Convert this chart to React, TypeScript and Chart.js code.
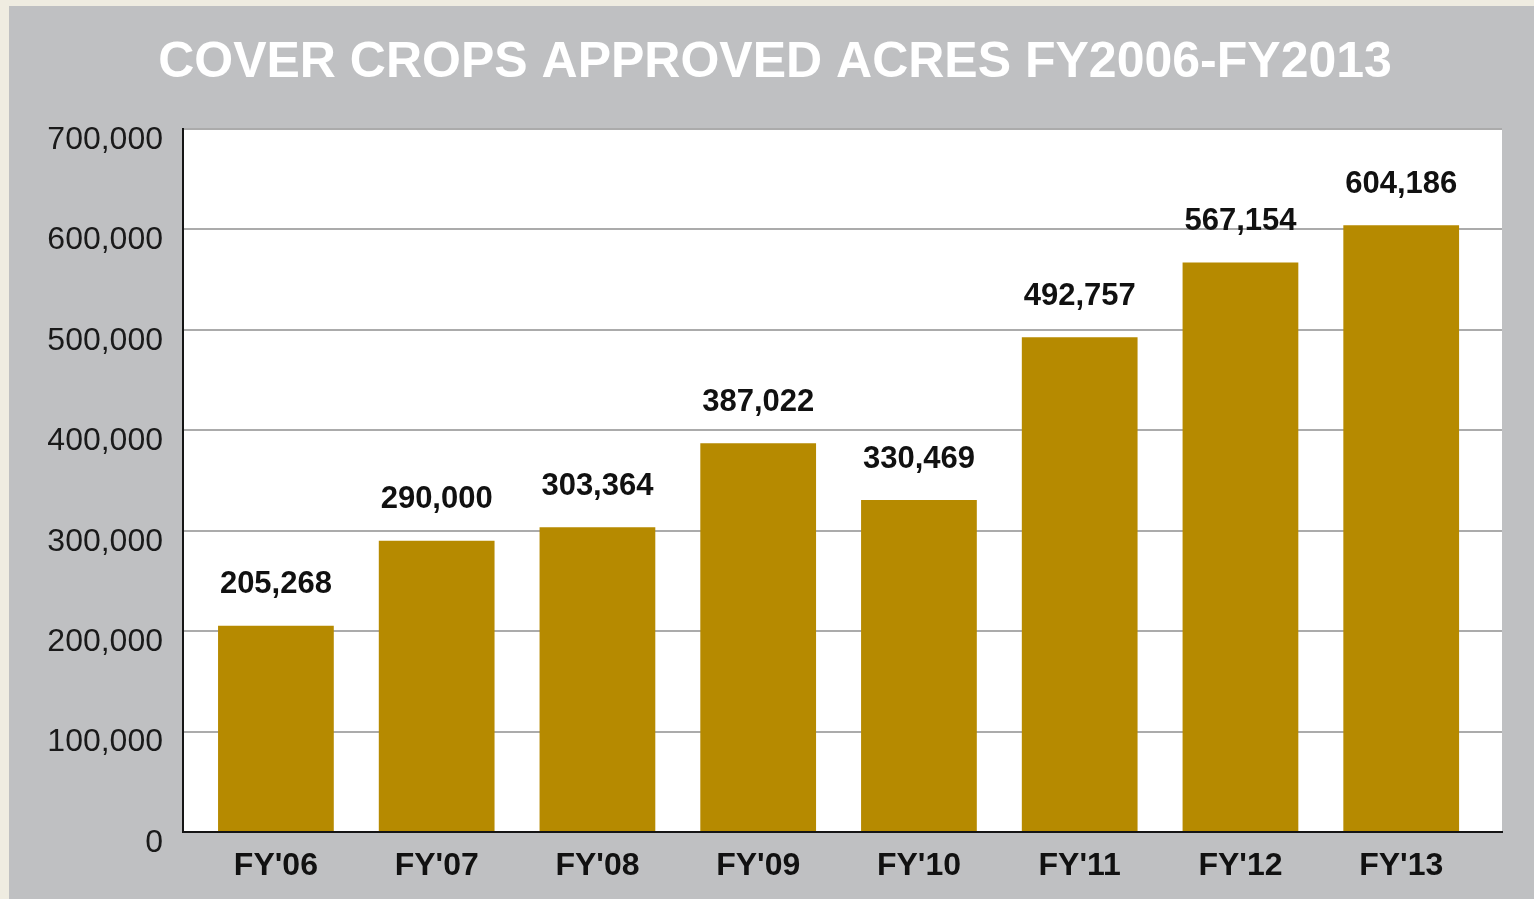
import React, { useEffect, useRef } from "react";
import { Chart, registerables } from "chart.js";

Chart.register(...registerables);

const TITLE = "COVER CROPS APPROVED ACRES FY2006-FY2013";
const CATEGORIES = ["FY'06", "FY'07", "FY'08", "FY'09", "FY'10", "FY'11", "FY'12", "FY'13"];
const ACRES = [205268, 290000, 303364, 387022, 330469, 492757, 567154, 604186];
const Y_MIN = 0;
const Y_MAX = 700000;
const Y_STEP = 100000;

const FONT = "'Liberation Sans', Arial, Helvetica, sans-serif";
const BAR_COLOR = "#b68a00";
const PANEL_BG = "#bfc0c2";
const PAGE_BG = "#efece1";

const plotBackground = {
  id: "plotBackground",
  beforeDraw(chart: any) {
    const { ctx, chartArea } = chart;
    ctx.save();
    ctx.fillStyle = "#ffffff";
    ctx.fillRect(chartArea.left, chartArea.top, chartArea.right - chartArea.left, chartArea.bottom - chartArea.top);
    ctx.restore();
  },
};

const valueLabels = {
  id: "valueLabels",
  afterDatasetsDraw(chart: any) {
    const { ctx } = chart;
    const meta = chart.getDatasetMeta(0);
    const data = chart.data.datasets[0].data as any[];
    ctx.save();
    ctx.font = `bold 31px ${FONT}`;
    ctx.fillStyle = "#111111";
    ctx.textAlign = "center";
    ctx.textBaseline = "middle";
    meta.data.forEach((el: any, i: number) => {
      const v = data[i].y as number;
      ctx.fillText(v.toLocaleString("en-US"), el.x, el.y - 41);
    });
    ctx.restore();
  },
};

export default function App() {
  const canvasRef = useRef<HTMLCanvasElement | null>(null);

  useEffect(() => {
    if (!canvasRef.current) return;
    const chart = new Chart(canvasRef.current, {
      type: "bar",
      data: {
        datasets: [
          {
            label: "Approved acres",
            data: ACRES.map((v, i) => ({ x: i, y: v })),
            backgroundColor: BAR_COLOR,
            borderWidth: 0,
            barPercentage: 0.72,
            categoryPercentage: 1,
          },
        ],
      },
      options: {
        responsive: false,
        animation: false,
        layout: { padding: { left: 39, right: 32, top: 0, bottom: 0 } },
        plugins: {
          legend: { display: false },
          tooltip: { enabled: false },
          title: {
            display: true,
            text: TITLE,
            color: "#ffffff",
            font: { family: FONT, size: 50, weight: "bold" },
            padding: { top: 27, bottom: 36 },
          },
        },
        scales: {
          x: {
            type: "linear",
            offset: false,
            min: -0.578,
            max: 7.627,
            grid: { display: false, drawTicks: false, offset: false },
            border: { display: true, color: "#151515", width: 2 },
            ticks: {
              stepSize: 1,
              includeBounds: false,
              autoSkip: false,
              maxRotation: 0,
              minRotation: 0,
              padding: 15,
              color: "#111111",
              font: { family: FONT, size: 32, weight: "bold" },
              callback: (value: any) =>
                Number.isInteger(value) && CATEGORIES[value] !== undefined ? CATEGORIES[value] : "",
            },
            afterFit: (scale: any) => {
              scale.height = 67;
            },
          },
          y: {
            min: Y_MIN,
            max: Y_MAX,
            grid: { color: "#ababab", lineWidth: 2, drawTicks: false },
            border: { display: true, color: "#151515", width: 2 },
            ticks: {
              stepSize: Y_STEP,
              padding: 20,
              labelOffset: 11,
              color: "#1a1a1a",
              font: { family: FONT, size: 32 },
              callback: (value: any) => Number(value).toLocaleString("en-US"),
            },
            afterFit: (scale: any) => {
              scale.width = 135;
            },
          },
        },
      },
      plugins: [plotBackground, valueLabels],
    });
    return () => chart.destroy();
  }, []);

  return (
    <div
      style={{
        position: "fixed",
        left: 0,
        top: 0,
        width: 1534,
        height: 899,
        background: PAGE_BG,
        overflow: "hidden",
      }}
    >
      <canvas
        ref={canvasRef}
        width={1525}
        height={893}
        style={{
          position: "absolute",
          left: 9,
          top: 6,
          width: 1525,
          height: 893,
          background: PANEL_BG,
        }}
      />
    </div>
  );
}
